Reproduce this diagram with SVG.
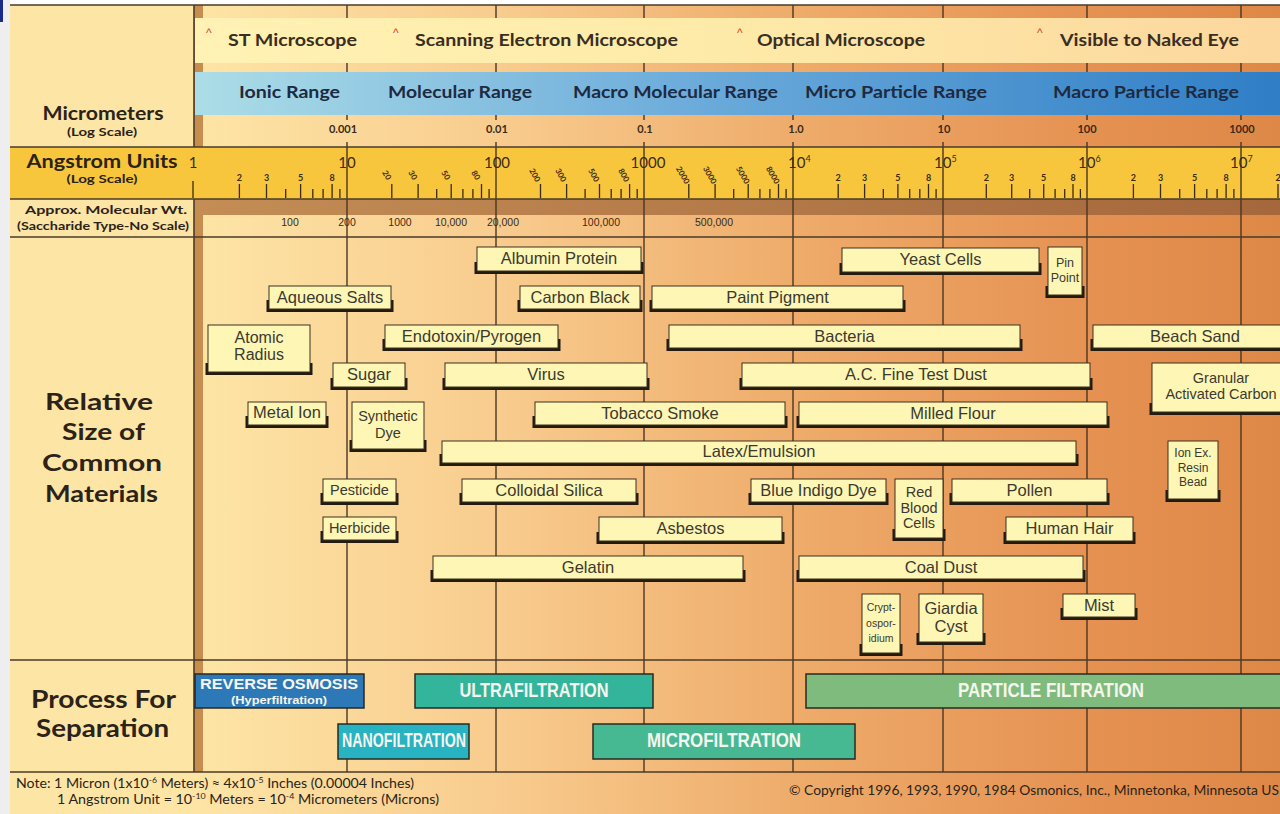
<svg xmlns="http://www.w3.org/2000/svg" width="1280" height="814" viewBox="0 0 1280 814">
<defs>
<linearGradient id="bg" gradientUnits="userSpaceOnUse" x1="195" y1="0" x2="1280" y2="0">
<stop offset="0" stop-color="#fde5a6"/><stop offset="0.28" stop-color="#f8cc8e"/><stop offset="0.56" stop-color="#eeab6a"/><stop offset="0.83" stop-color="#e59152"/><stop offset="1" stop-color="#de8847"/>
</linearGradient>
<linearGradient id="scope" gradientUnits="userSpaceOnUse" x1="195" y1="0" x2="1280" y2="0">
<stop offset="0" stop-color="#fff2b4"/><stop offset="0.5" stop-color="#feeaa8"/><stop offset="1" stop-color="#fcd79e"/>
</linearGradient>
<linearGradient id="blue" gradientUnits="userSpaceOnUse" x1="195" y1="0" x2="1280" y2="0">
<stop offset="0" stop-color="#acdde7"/><stop offset="0.45" stop-color="#6dacdb"/><stop offset="1" stop-color="#2f7ec6"/>
</linearGradient>
<linearGradient id="brown" gradientUnits="userSpaceOnUse" x1="195" y1="0" x2="1280" y2="0">
<stop offset="0" stop-color="#c38d55"/><stop offset="1" stop-color="#a5673c"/>
</linearGradient>
<style>
.hd{font-family:Lato,'Open Sans','Liberation Sans',sans-serif;font-weight:700;fill:#2b2218;text-anchor:middle}
.sc{font-family:Lato,'Open Sans',sans-serif;font-weight:700;font-size:17px;fill:#3a2e20}
.rg{font-family:Lato,'Open Sans',sans-serif;font-weight:700;font-size:17.5px;fill:#1d2a40}
.um{font-family:Lato,'Open Sans',sans-serif;font-weight:700;font-size:11px;fill:#3a2a1a;text-anchor:middle}
.dk{font-family:Lato,'Open Sans',sans-serif;font-size:15px;fill:#3a2a18}
.sm{font-family:Lato,'Open Sans',sans-serif;font-weight:700;font-size:9px;fill:#3a2a18;text-anchor:middle}
.rt{font-family:Lato,'Open Sans',sans-serif;font-weight:700;font-size:8px;fill:#3a2a18;text-anchor:middle}
.mw{font-family:'Liberation Sans',Arial,sans-serif;font-size:10.5px;fill:#3a2a18;text-anchor:middle}
.sh{fill:#231a10}
.bx{fill:#fef6b5;stroke:#3a3020;stroke-width:1}
.bt{font-family:'Liberation Sans',Arial,sans-serif;font-size:16.5px;fill:#3a3a30;text-anchor:middle}
.grid line{stroke:#4a3622;stroke-width:1.4}
.hl{stroke:#4a3a28;stroke-width:1.6}
.pb{stroke:#2a2a22;stroke-width:1.5}
.pt{font-family:'Liberation Sans',Arial,sans-serif;font-weight:700;font-size:20px;fill:#f6f6ee;text-anchor:middle}
.nt{font-family:Lato,'Open Sans',sans-serif;font-size:13px;fill:#2a2418}
.car{font-family:'Liberation Sans',Arial,sans-serif;font-size:12px;fill:#d4472c}
</style>
</defs>

<!-- background -->
<rect x="0" y="0" width="1280" height="814" fill="#ffffff"/>
<rect x="0" y="0" width="10" height="814" fill="#eeedf0"/>
<rect x="0" y="0" width="3" height="22" fill="#1a2a8a"/>
<rect x="10" y="5" width="1270" height="809" fill="url(#bg)"/>
<rect x="194" y="5" width="9" height="767" fill="#c68d4e"/>
<rect x="10" y="147" width="1270" height="52" fill="#f8c63d"/>
<rect x="194" y="199" width="1086" height="16" fill="url(#brown)"/>

<!-- grid -->
<g id="grid" class="grid">
<line x1="347" y1="5" x2="347" y2="120"/><line x1="347" y1="142" x2="347" y2="772"/>
<line x1="496" y1="5" x2="496" y2="120"/><line x1="496" y1="142" x2="496" y2="772"/>
<line x1="644" y1="5" x2="644" y2="120"/><line x1="644" y1="142" x2="644" y2="772"/>
<line x1="793" y1="5" x2="793" y2="120"/><line x1="793" y1="142" x2="793" y2="772"/>
<line x1="943" y1="5" x2="943" y2="120"/><line x1="943" y1="142" x2="943" y2="772"/>
<line x1="1087" y1="5" x2="1087" y2="120"/><line x1="1087" y1="142" x2="1087" y2="772"/>
<line x1="1241" y1="5" x2="1241" y2="120"/><line x1="1241" y1="142" x2="1241" y2="772"/>
</g>

<!-- bands -->
<rect x="195" y="18" width="1085" height="45" fill="url(#scope)"/>
<rect x="195" y="72" width="1085" height="43" fill="url(#blue)"/>

<!-- horizontal rules -->
<g id="rules">
<line class="hl" x1="10" y1="5" x2="1280" y2="5" stroke-width="2"/>
<line class="hl" x1="10" y1="147" x2="1280" y2="147"/>
<line class="hl" x1="10" y1="199" x2="1280" y2="199"/>
<line class="hl" x1="10" y1="237" x2="1280" y2="237"/>
<line class="hl" x1="10" y1="660" x2="1280" y2="660"/>
<line class="hl" x1="10" y1="772" x2="1280" y2="772" stroke-width="2"/>
<line class="hl" x1="194" y1="5" x2="194" y2="147"/>
<line class="hl" x1="194" y1="199" x2="194" y2="772"/>
</g>

<!-- microscope band -->
<g id="microscopes">
<text class="car" x="206" y="37">^</text>
<text class="sc" x="228" y="46" textLength="129" lengthAdjust="spacingAndGlyphs">ST Microscope</text>
<text class="car" x="393" y="37">^</text>
<text class="sc" x="415" y="46" textLength="263" lengthAdjust="spacingAndGlyphs">Scanning Electron Microscope</text>
<text class="car" x="737" y="37">^</text>
<text class="sc" x="757" y="46" textLength="168" lengthAdjust="spacingAndGlyphs">Optical Microscope</text>
<text class="car" x="1037" y="37">^</text>
<text class="sc" x="1060" y="46" textLength="179" lengthAdjust="spacingAndGlyphs">Visible to Naked Eye</text>
</g>

<!-- ranges -->
<g id="ranges">
<text class="rg" x="239" y="98" textLength="101" lengthAdjust="spacingAndGlyphs">Ionic Range</text>
<text class="rg" x="388" y="98" textLength="144" lengthAdjust="spacingAndGlyphs">Molecular Range</text>
<text class="rg" x="573" y="98" textLength="205" lengthAdjust="spacingAndGlyphs">Macro Molecular Range</text>
<text class="rg" x="805" y="98" textLength="182" lengthAdjust="spacingAndGlyphs">Micro Particle Range</text>
<text class="rg" x="1053" y="98" textLength="186" lengthAdjust="spacingAndGlyphs">Macro Particle Range</text>
</g>

<!-- micrometer scale -->
<g id="micrometers">
<text class="um" x="343" y="133">0.001</text>
<text class="um" x="497" y="133">0.01</text>
<text class="um" x="645" y="133">0.1</text>
<text class="um" x="796" y="133">1.0</text>
<text class="um" x="944" y="133">10</text>
<text class="um" x="1087" y="133">100</text>
<text class="um" x="1242" y="133">1000</text>
</g>

<!-- left column labels -->
<g id="left-labels">
<text class="hd" x="103" y="120" font-size="19" textLength="121" lengthAdjust="spacingAndGlyphs">Micrometers</text>
<text class="hd" x="102" y="136" font-size="11.5" textLength="70" lengthAdjust="spacingAndGlyphs">(Log Scale)</text>
<text class="hd" x="102" y="168" font-size="19" textLength="151" lengthAdjust="spacingAndGlyphs">Angstrom Units</text>
<text class="hd" x="102" y="183" font-size="11.5" textLength="71" lengthAdjust="spacingAndGlyphs">(Log Scale)</text>
<text class="hd" x="106" y="214" font-size="12" textLength="162" lengthAdjust="spacingAndGlyphs">Approx. Molecular Wt.</text>
<text class="hd" x="103" y="230" font-size="11.5" textLength="172" lengthAdjust="spacingAndGlyphs">(Saccharide Type-No Scale)</text>
<text class="hd" x="99" y="410" font-size="23.5" textLength="108" lengthAdjust="spacingAndGlyphs">Relative</text>
<text class="hd" x="103.5" y="440" font-size="23.5" textLength="83" lengthAdjust="spacingAndGlyphs">Size of</text>
<text class="hd" x="102" y="471" font-size="23.5" textLength="120" lengthAdjust="spacingAndGlyphs">Common</text>
<text class="hd" x="101.5" y="502" font-size="23.5" textLength="113" lengthAdjust="spacingAndGlyphs">Materials</text>
<text class="hd" x="103.5" y="708" font-size="25" textLength="145" lengthAdjust="spacingAndGlyphs">Process For</text>
<text class="hd" x="102.5" y="737" font-size="25" textLength="133" lengthAdjust="spacingAndGlyphs">Separation</text>
</g>

<!-- angstrom scale -->
<g id="angstrom">
<path stroke="#3a2a18" stroke-width="1.3" fill="none" d="M193 181v17 M239.4 184v14 M266.5 184v14 M300.6 184v14 M332.1 184v14 M391.8 184v14 M418.1 184v14 M451.2 184v14 M481.5 184v14 M540.5 184v14 M566.6 184v14 M599.5 184v14 M629.6 184v14 M688.8 184v14 M715.1 184v14 M748.2 184v14 M778.5 184v14 M838.2 184v14 M864.6 184v14 M897.9 184v14 M928.5 184v14 M986.3 184v14 M1011.7 184v14 M1043.7 184v14 M1073 184v14 M1133.4 184v14 M1160.5 184v14 M1194.6 184v14 M1226.1 184v14 M1278 184v14
M285.7 189v9 M312.8 189v9 M323.1 189v9 M339.9 189v9 M436.7 189v9 M462.9 189v9 M472.9 189v9 M489.1 189v9 M585.1 189v9 M611.2 189v9 M621.1 189v9 M637.2 189v9 M733.7 189v9 M759.9 189v9 M769.9 189v9 M786.1 189v9 M883.3 189v9 M909.7 189v9 M919.8 189v9 M936.1 189v9 M1029.7 189v9 M1055.1 189v9 M1064.7 189v9 M1080.4 189v9 M1179.7 189v9 M1206.8 189v9 M1217.1 189v9 M1233.9 189v9"/>
<text class="dk" x="193" y="168" text-anchor="middle">1</text>
<text class="dk" x="347" y="168" text-anchor="middle">10</text>
<text class="dk" x="497" y="168" text-anchor="middle">100</text>
<text class="dk" x="648" y="168" text-anchor="middle">1000</text>
<text class="dk" x="788" y="168">10<tspan font-size="9" dy="-6">4</tspan></text>
<text class="dk" x="934" y="168">10<tspan font-size="9" dy="-6">5</tspan></text>
<text class="dk" x="1078" y="168">10<tspan font-size="9" dy="-6">6</tspan></text>
<text class="dk" x="1230" y="168">10<tspan font-size="9" dy="-6">7</tspan></text>
<text class="sm" x="239.4" y="181">2</text><text class="sm" x="266.5" y="181">3</text><text class="sm" x="300.6" y="181">5</text><text class="sm" x="332.1" y="181">8</text>
<text class="sm" x="838.2" y="181">2</text><text class="sm" x="864.6" y="181">3</text><text class="sm" x="897.9" y="181">5</text><text class="sm" x="928.5" y="181">8</text>
<text class="sm" x="986.3" y="181">2</text><text class="sm" x="1011.7" y="181">3</text><text class="sm" x="1043.7" y="181">5</text><text class="sm" x="1073" y="181">8</text>
<text class="sm" x="1133.4" y="181">2</text><text class="sm" x="1160.5" y="181">3</text><text class="sm" x="1194.6" y="181">5</text><text class="sm" x="1226.1" y="181">8</text>
<text class="sm" x="1278" y="181">2</text>
<text class="rt" dy="3" transform="translate(387,175) rotate(60)">20</text>
<text class="rt" dy="3" transform="translate(413,175) rotate(60)">30</text>
<text class="rt" dy="3" transform="translate(446,175) rotate(60)">50</text>
<text class="rt" dy="3" transform="translate(476,175) rotate(60)">80</text>
<text class="rt" dy="3" transform="translate(535,175) rotate(60)">200</text>
<text class="rt" dy="3" transform="translate(561,175) rotate(60)">300</text>
<text class="rt" dy="3" transform="translate(594,175) rotate(60)">500</text>
<text class="rt" dy="3" transform="translate(624,175) rotate(60)">800</text>
<text class="rt" dy="3" transform="translate(683,175) rotate(60)">2000</text>
<text class="rt" dy="3" transform="translate(710,175) rotate(60)">3000</text>
<text class="rt" dy="3" transform="translate(743,175) rotate(60)">5000</text>
<text class="rt" dy="3" transform="translate(773,175) rotate(60)">8000</text>
</g>

<!-- molecular weight -->
<g id="molecular-weight">
<text class="mw" x="290" y="226">100</text>
<text class="mw" x="347" y="226">200</text>
<text class="mw" x="400" y="226">1000</text>
<text class="mw" x="451" y="226">10,000</text>
<text class="mw" x="503" y="226">20,000</text>
<text class="mw" x="601" y="226">100,000</text>
<text class="mw" x="714" y="226">500,000</text>
</g>

<!-- materials -->
<g id="n-albumin"><rect class="sh" x="474.5" y="262" width="169" height="12"/><rect class="bx" x="477" y="247" width="164" height="24"/><text class="bt" x="559" y="264">Albumin Protein</text></g>
<g id="n-yeast"><rect class="sh" x="839.5" y="263" width="202" height="12"/><rect class="bx" x="842" y="248" width="197" height="24"/><text class="bt" x="940.5" y="265">Yeast Cells</text></g>
<g id="n-pinpoint"><rect class="sh" x="1045.5" y="286" width="39" height="12"/><rect class="bx" x="1048" y="247" width="34" height="48"/><text class="bt" style="font-size:12.5px" x="1065" y="267">Pin</text><text class="bt" style="font-size:12.5px" x="1065" y="282">Point</text></g>
<g id="n-aqueous"><rect class="sh" x="266.5" y="300" width="127" height="12"/><rect class="bx" x="269" y="286" width="122" height="23"/><text class="bt" x="330" y="303">Aqueous Salts</text></g>
<g id="n-carbonblack"><rect class="sh" x="517.5" y="300" width="125" height="12"/><rect class="bx" x="520" y="286" width="120" height="23"/><text class="bt" x="580" y="303">Carbon Black</text></g>
<g id="n-paint"><rect class="sh" x="649.5" y="300" width="256" height="12"/><rect class="bx" x="652" y="286" width="251" height="23"/><text class="bt" x="777.5" y="303">Paint Pigment</text></g>
<g id="n-atomic"><rect class="sh" x="205.5" y="363" width="107" height="12"/><rect class="bx" x="208" y="325" width="102" height="47"/><text class="bt" style="font-size:16px" x="259" y="343">Atomic</text><text class="bt" style="font-size:16px" x="259" y="360">Radius</text></g>
<g id="n-endotoxin"><rect class="sh" x="382.5" y="339" width="178" height="12"/><rect class="bx" x="385" y="325" width="173" height="23"/><text class="bt" x="471.5" y="342">Endotoxin/Pyrogen</text></g>
<g id="n-bacteria"><rect class="sh" x="666.5" y="339" width="356" height="12"/><rect class="bx" x="669" y="325" width="351" height="23"/><text class="bt" x="844.5" y="342">Bacteria</text></g>
<g id="n-beachsand"><rect class="sh" x="1090.5" y="339" width="209" height="12"/><rect class="bx" x="1093" y="325" width="204" height="23"/><text class="bt" x="1195" y="342">Beach Sand</text></g>
<g id="n-sugar"><rect class="sh" x="330.5" y="378" width="77" height="12"/><rect class="bx" x="333" y="363" width="72" height="24"/><text class="bt" x="369" y="380">Sugar</text></g>
<g id="n-virus"><rect class="sh" x="442.5" y="378" width="207" height="12"/><rect class="bx" x="445" y="363" width="202" height="24"/><text class="bt" x="546" y="380">Virus</text></g>
<g id="n-acdust"><rect class="sh" x="739.5" y="378" width="353" height="12"/><rect class="bx" x="742" y="363" width="348" height="24"/><text class="bt" x="916" y="380">A.C. Fine Test Dust</text></g>
<g id="n-granular"><rect class="sh" x="1149.5" y="403" width="149" height="12"/><rect class="bx" x="1152" y="363" width="144" height="49"/><text class="bt" style="font-size:14.5px" x="1221" y="383">Granular</text><text class="bt" style="font-size:14.5px" x="1221" y="399">Activated Carbon</text></g>
<g id="n-metalion"><rect class="sh" x="245.5" y="416" width="83" height="12"/><rect class="bx" x="248" y="402" width="78" height="23"/><text class="bt" x="287" y="418">Metal Ion</text></g>
<g id="n-synthdye"><rect class="sh" x="349.5" y="440" width="77" height="12"/><rect class="bx" x="352" y="402" width="72" height="47"/><text class="bt" style="font-size:14.5px" x="388" y="421">Synthetic</text><text class="bt" style="font-size:14.5px" x="388" y="438">Dye</text></g>
<g id="n-tobacco"><rect class="sh" x="532.5" y="416" width="255" height="12"/><rect class="bx" x="535" y="402" width="250" height="23"/><text class="bt" x="660" y="419">Tobacco Smoke</text></g>
<g id="n-flour"><rect class="sh" x="796.5" y="416" width="313" height="12"/><rect class="bx" x="799" y="402" width="308" height="23"/><text class="bt" x="953" y="419">Milled Flour</text></g>
<g id="n-latex"><rect class="sh" x="439.5" y="454" width="639" height="12"/><rect class="bx" x="442" y="441" width="634" height="22"/><text class="bt" x="759" y="457">Latex/Emulsion</text></g>
<g id="n-ionex"><rect class="sh" x="1165.5" y="490" width="55" height="12"/><rect class="bx" x="1168" y="441" width="50" height="58"/><text class="bt" style="font-size:12px" x="1193" y="457">Ion Ex.</text><text class="bt" style="font-size:12px" x="1193" y="471.5">Resin</text><text class="bt" style="font-size:12px" x="1193" y="486">Bead</text></g>
<g id="n-pesticide"><rect class="sh" x="320.5" y="493" width="78" height="12"/><rect class="bx" x="323" y="479" width="73" height="23"/><text class="bt" style="font-size:14.5px" x="359.5" y="495">Pesticide</text></g>
<g id="n-silica"><rect class="sh" x="459.5" y="493" width="179" height="12"/><rect class="bx" x="462" y="479" width="174" height="23"/><text class="bt" x="549" y="496">Colloidal Silica</text></g>
<g id="n-indigo"><rect class="sh" x="748.5" y="493" width="140" height="12"/><rect class="bx" x="751" y="479" width="135" height="23"/><text class="bt" x="818.5" y="496">Blue Indigo Dye</text></g>
<g id="n-rbc"><rect class="sh" x="892.5" y="529" width="53" height="12"/><rect class="bx" x="895" y="479" width="48" height="59"/><text class="bt" style="font-size:14.5px" x="919" y="497">Red</text><text class="bt" style="font-size:14.5px" x="919" y="512.5">Blood</text><text class="bt" style="font-size:14.5px" x="919" y="528">Cells</text></g>
<g id="n-pollen"><rect class="sh" x="949.5" y="493" width="160" height="12"/><rect class="bx" x="952" y="479" width="155" height="23"/><text class="bt" x="1029.5" y="496">Pollen</text></g>
<g id="n-herbicide"><rect class="sh" x="320.5" y="531" width="78" height="12"/><rect class="bx" x="323" y="517" width="73" height="23"/><text class="bt" style="font-size:14.5px" x="359.5" y="533">Herbicide</text></g>
<g id="n-asbestos"><rect class="sh" x="596.5" y="532" width="188" height="12"/><rect class="bx" x="599" y="517" width="183" height="24"/><text class="bt" x="690.5" y="534">Asbestos</text></g>
<g id="n-hair"><rect class="sh" x="1003.5" y="532" width="132" height="12"/><rect class="bx" x="1006" y="517" width="127" height="24"/><text class="bt" x="1069.5" y="534">Human Hair</text></g>
<g id="n-gelatin"><rect class="sh" x="430.5" y="570" width="315" height="12"/><rect class="bx" x="433" y="556" width="310" height="23"/><text class="bt" x="588" y="573">Gelatin</text></g>
<g id="n-coaldust"><rect class="sh" x="796.5" y="570" width="289" height="12"/><rect class="bx" x="799" y="556" width="284" height="23"/><text class="bt" x="941" y="573">Coal Dust</text></g>
<g id="n-crypto"><rect class="sh" x="859.5" y="644" width="43" height="12"/><rect class="bx" x="862" y="594" width="38" height="59"/><text class="bt" style="font-size:10.5px" x="881" y="611">Crypt-</text><text class="bt" style="font-size:10.5px" x="881" y="626.5">ospor-</text><text class="bt" style="font-size:10.5px" x="881" y="642">idium</text></g>
<g id="n-giardia"><rect class="sh" x="916.5" y="633" width="69" height="12"/><rect class="bx" x="919" y="594" width="64" height="48"/><text class="bt" x="951" y="614">Giardia</text><text class="bt" x="951" y="632">Cyst</text></g>
<g id="n-mist"><rect class="sh" x="1060.5" y="608" width="77" height="12"/><rect class="bx" x="1063" y="594" width="72" height="23"/><text class="bt" x="1099" y="611">Mist</text></g>

<!-- separation processes -->
<g id="p-ro"><rect class="pb" x="195" y="674" width="169" height="34" fill="#2d79b7"/><text class="pt" style="font-size:15px" x="279" y="688.5" textLength="158" lengthAdjust="spacingAndGlyphs">REVERSE OSMOSIS</text><text class="pt" style="font-size:10px" x="279" y="703.5" textLength="96" lengthAdjust="spacingAndGlyphs">(Hyperfiltration)</text></g>
<g id="p-ultra"><rect class="pb" x="415" y="674" width="238" height="34" fill="#33b59b"/><text class="pt" x="534" y="697" textLength="149" lengthAdjust="spacingAndGlyphs">ULTRAFILTRATION</text></g>
<g id="p-particle"><rect class="pb" x="806" y="674" width="490" height="34" fill="#7ebb7c"/><text class="pt" x="1051" y="697" textLength="186" lengthAdjust="spacingAndGlyphs">PARTICLE FILTRATION</text></g>
<g id="p-nano"><rect class="pb" x="338" y="724" width="131" height="35" fill="#27b3c2"/><text class="pt" x="404" y="747" textLength="124" lengthAdjust="spacingAndGlyphs">NANOFILTRATION</text></g>
<g id="p-micro"><rect class="pb" x="593" y="724" width="262" height="35" fill="#46b993"/><text class="pt" x="724" y="747" textLength="154" lengthAdjust="spacingAndGlyphs">MICROFILTRATION</text></g>

<!-- notes -->
<g id="notes">
<text class="nt" x="16" y="788" textLength="398" lengthAdjust="spacingAndGlyphs">Note: 1 Micron (1x10<tspan dy="-5" font-size="8">-6</tspan><tspan dy="5"> Meters) ≈ 4x10</tspan><tspan dy="-5" font-size="8">-5</tspan><tspan dy="5"> Inches (0.00004 Inches)</tspan></text>
<text class="nt" x="57" y="804" textLength="382" lengthAdjust="spacingAndGlyphs">1 Angstrom Unit = 10<tspan dy="-5" font-size="8">-10</tspan><tspan dy="5"> Meters = 10</tspan><tspan dy="-5" font-size="8">-4</tspan><tspan dy="5"> Micrometers (Microns)</tspan></text>
<text class="nt" x="789" y="795" textLength="490" lengthAdjust="spacingAndGlyphs">© Copyright 1996, 1993, 1990, 1984 Osmonics, Inc., Minnetonka, Minnesota US</text>
</g>
</svg>
